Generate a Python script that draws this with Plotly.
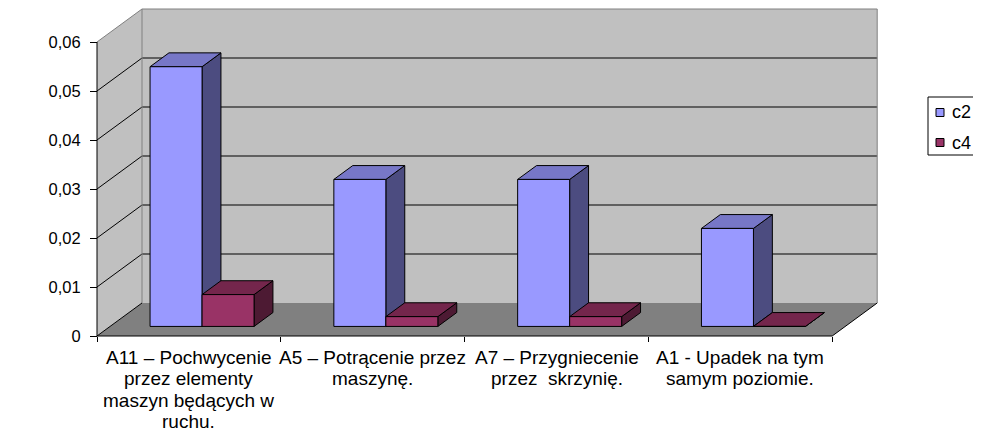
import plotly.graph_objects as go

# ---------------- data ----------------
categories = [
    ["A11 – Pochwycenie", "przez elementy", "maszyn będących w", "ruchu."],
    ["A5 – Potrącenie przez", "maszynę."],
    ["A7 – Przygniecenie", "przez\u00a0 skrzynię."],
    ["A1 - Upadek na tym", "samym poziomie."],
]
series_names = ["c2", "c4"]
c2_values = [0.053, 0.030, 0.030, 0.020]
c4_values = [0.0065, 0.002, 0.002, 0.0]
y_tick_values = [0, 0.01, 0.02, 0.03, 0.04, 0.05, 0.06]
y_tick_labels = ["0", "0,01", "0,02", "0,03", "0,04", "0,05", "0,06"]
y_title = "lambda (c,1)"

# ---------------- styling / geometry ----------------
FONT = "Liberation Sans, Arial, sans-serif"
front_colors = ["#9999FF", "#993366"]
top_colors = ["#7777C7", "#74264C"]
side_colors = ["#4C4C80", "#4D1A33"]
WALL = "#C0C0C0"
FLOOR = "#808080"
BORDER = "#808080"

OFF = 8                                # page body margin compensation
W_FIG, H_FIG = 981 - OFF, 447 - 2 * OFF
L, R, T, B = 88 - OFF, 886 - OFF, 4 - OFF, 346 - OFF   # plot area in px
X0_PX, Y0_PX = 97 - OFF, 336 - OFF     # front origin in px
PX_X = 183.8                           # px per category
PX_Y = 4900.0                          # px per value unit
DX = 45 / PX_X                         # depth offset (x)
DY = 33 / PX_Y                         # depth offset (y)
NCAT = len(categories)
YMAX = y_tick_values[-1]
GAP = 40 / PX_X
BW = 52 / PX_X
F0, F1 = 0.29, 0.71                    # bar depth (fraction of wall depth)

T = max(T, 0)
xrange_ = [(L - X0_PX) / PX_X, (R - X0_PX) / PX_X]
yrange_ = [(Y0_PX - B) / PX_Y, (Y0_PX - T) / PX_Y]


def px_to_paper_x(px):
    return (px - OFF - L) / (R - L)


def px_to_paper_y(py):
    return (B - (py - OFF)) / (B - T)


fig = go.Figure()


def poly(xs, ys, fill, line_color="black", lw=1):
    fig.add_trace(go.Scatter(
        x=list(xs) + [xs[0]], y=list(ys) + [ys[0]], mode="lines",
        fill="toself", fillcolor=fill,
        line=dict(color=line_color, width=lw),
        hoverinfo="skip", showlegend=False))


def lines(segs, color, lw=1):
    xs, ys = [], []
    for seg in segs:
        for (a, b) in seg:
            xs.append(a)
            ys.append(b)
        xs.append(None)
        ys.append(None)
    fig.add_trace(go.Scatter(x=xs, y=ys, mode="lines",
                             line=dict(color=color, width=lw),
                             hoverinfo="skip", showlegend=False))


# walls and floor
poly([DX, NCAT + DX, NCAT + DX, DX], [DY, DY, YMAX + DY, YMAX + DY], WALL, WALL, 0)
poly([0, DX, DX, 0], [0, DY, YMAX + DY, YMAX], WALL, WALL, 0)
poly([0, NCAT, NCAT + DX, DX], [0, 0, DY, DY], FLOOR, FLOOR, 0)

# gridlines
grid = []
for v in y_tick_values[1:-1]:
    grid.append([(0, v), (DX, v + DY), (NCAT + DX, v + DY)])
lines(grid, "black", 1)

# gray borders
lines([
    [(0, YMAX), (DX, YMAX + DY), (NCAT + DX, YMAX + DY), (NCAT + DX, DY)],
    [(DX, DY), (DX, YMAX + DY)],
], BORDER, 1)

# black edges: axis lines and floor edges
lines([
    [(0, YMAX), (0, 0), (NCAT, 0), (NCAT + DX, DY)],
    [(0, 0), (DX, DY)],
], "black", 1)

# bars
series_values = [c2_values, c4_values]
for i in range(NCAT):
    for s, vals in enumerate(series_values):
        v = vals[i]
        xl = i + GAP + s * BW
        xr = xl + BW
        b0, b1 = F0 * DY, F1 * DY
        a0, a1 = F0 * DX, F1 * DX
        poly([xr + a0, xr + a1, xr + a1, xr + a0],
             [b0, b1, v + b1, v + b0], side_colors[s])
        poly([xl + a0, xr + a0, xr + a1, xl + a1],
             [v + b0, v + b0, v + b1, v + b1], top_colors[s])
        poly([xl + a0, xr + a0, xr + a0, xl + a0],
             [b0, b0, v + b0, v + b0], front_colors[s])

# category labels
annotations = []
for i, lab in enumerate(categories):
    for k, line in enumerate(lab):
        annotations.append(dict(
            x=i + 0.5, y=0, xref="x", yref="y", text=line, showarrow=False,
            xanchor="center", yanchor="middle", yshift=-(21 + k * 21.6),
            font=dict(family=FONT, size=19, color="black")))
annotations.append(dict(
    x=(22 - 97) / PX_X, y=YMAX / 2, xref="x", yref="y", text="<b>%s</b>" % y_title,
    showarrow=False, textangle=-90, xanchor="center", yanchor="middle",
    font=dict(family=FONT, size=19, color="black")))

# legend (box, swatches, texts)
shapes = [dict(type="rect", xref="paper", yref="paper",
               x0=px_to_paper_x(928), x1=px_to_paper_x(975),
               y0=px_to_paper_y(155), y1=px_to_paper_y(97),
               line=dict(color="black", width=1), fillcolor="white", layer="above")]
LEG_ROW = [112.5, 142.5]
for s, name in enumerate(series_names):
    cy = LEG_ROW[s]
    shapes.append(dict(type="rect", xref="paper", yref="paper",
                       x0=px_to_paper_x(936), x1=px_to_paper_x(944),
                       y0=px_to_paper_y(cy + 4), y1=px_to_paper_y(cy - 4),
                       line=dict(color="black", width=1),
                       fillcolor=front_colors[s], layer="above"))
    annotations.append(dict(
        x=px_to_paper_x(950), y=px_to_paper_y(cy), xref="paper", yref="paper",
        text=name, showarrow=False, xanchor="left", yanchor="middle",
        font=dict(family=FONT, size=18, color="black")))

fig.update_layout(
    width=W_FIG, height=H_FIG,
    margin=dict(l=L, r=W_FIG - R, t=T, b=H_FIG - B, pad=0),
    paper_bgcolor="white", plot_bgcolor="white",
    font=dict(family=FONT, color="black"),
    showlegend=False,
    xaxis=dict(type="linear", range=xrange_, anchor="free",
               position=(B - Y0_PX) / (B - T),
               tickvals=list(range(NCAT + 1)), ticks="outside", ticklen=5,
               tickcolor="black", showticklabels=False,
               showgrid=False, zeroline=False, showline=False, fixedrange=True),
    yaxis=dict(type="linear", range=yrange_, anchor="free",
               position=(X0_PX - L) / (R - L),
               tickvals=y_tick_values, ticktext=y_tick_labels,
               ticks="outside", ticklen=7, tickcolor="black", ticklabelstandoff=6,
               tickfont=dict(family=FONT, size=16.5, color="black"),
               showgrid=False, zeroline=False, showline=False, fixedrange=True),
    annotations=annotations,
    shapes=shapes,
)

fig.write_html("out.html")
